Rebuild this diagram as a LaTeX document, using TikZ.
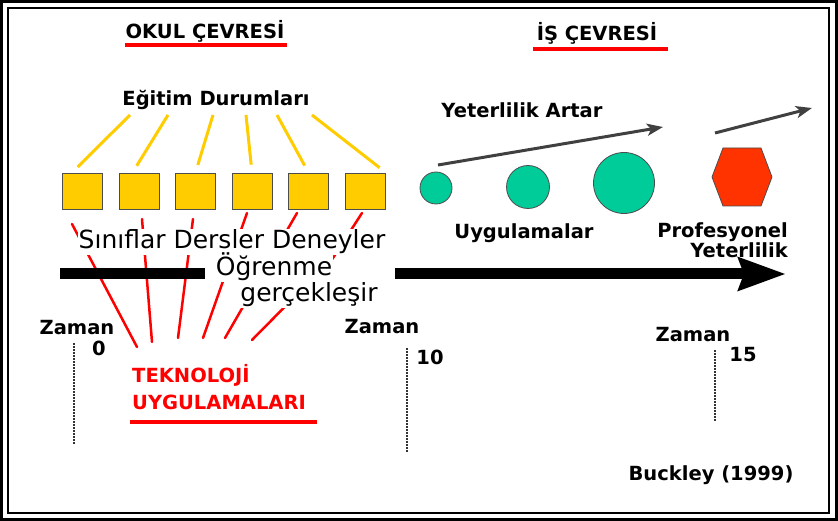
\documentclass[tikz,border=0pt]{standalone}
\usepackage{fontspec}
\setmainfont{DejaVu Sans}
\usepackage{tikz}
\usetikzlibrary{positioning, arrows.meta, shapes.geometric}
\definecolor{sqyellow}{RGB}{255, 204, 0}
\definecolor{apgreen}{RGB}{0, 204, 153}
\definecolor{hexred}{RGB}{255, 51, 0}
\definecolor{tekred}{RGB}{255, 0, 0}
\definecolor{arrgray}{RGB}{64, 64, 64}
\newcommand{\lblfont}{\fontsize{19.5}{20}\selectfont\bfseries}
\newcommand{\bigfont}{\fontsize{25}{26}\selectfont}
\tikzset{
    lbl/.style={font=\lblfont, inner sep=1pt},
    redlbl/.style={lbl, text=tekred},
    biglbl/.style={font=\bigfont, fill=white, inner sep=1pt},
    sqbox/.style={rectangle, draw=gray!60!black, line width=0.8pt, fill=sqyellow, minimum width=40pt, minimum height=36pt, inner sep=0pt},
    apcircle/.style={circle, draw=gray!60!black, line width=0.8pt, fill=apgreen, inner sep=0pt},
    yline/.style={draw=sqyellow, line width=3pt, shorten >=8pt},
    rline/.style={draw=tekred, line width=2.5pt, line cap=round, line join=round},
    uline/.style={draw=tekred, line width=4.5pt},
    garrow/.style={draw=arrgray, line width=3pt, -{Stealth[length=16pt, width=12pt, inset=4pt]}},
    dotline/.style={draw=gray!40!black, line width=1.5pt, dash pattern=on 1.5pt off 1.5pt}
}

\begin{document}
\begin{tikzpicture}[x=1pt, y=-1pt]
                    \useasboundingbox (0,0) rectangle (838,521);
                    % frame
                    \draw[line width=3pt] (1.5,1.5) rectangle (836.5,519.5);
                    \draw[line width=2.5pt] (8,8) rectangle (829,513);

                    % headings
                    \node[lbl] (okul) at (205,31) {OKUL ÇEVRESİ};
                    \draw[uline] (125,45) -- (287,45);
                    \node[lbl] (is) at (597,33) {İŞ ÇEVRESİ};
                    \draw[uline] (533,49) -- (668,49);

                    % egitim durumlari
                    \node[lbl] (egitim) at (216,100) {Eğitim Durumları};
                    \node[sqbox] (s1) at (82,191) {};
                    \node[sqbox] (s2) at (139.5,191) {};
                    \node[sqbox] (s3) at (195.5,191) {};
                    \node[sqbox] (s4) at (252,191) {};
                    \node[sqbox] (s5) at (308.5,191) {};
                    \node[sqbox] (s6) at (365.5,191) {};

                    \coordinate (e1) at (130,115);
                    \coordinate (e2) at (168,115);
                    \coordinate (e3) at (213,115);
                    \coordinate (e4) at (246,115);
                    \coordinate (e5) at (277,115);
                    \coordinate (e6) at (312,115);
                    \draw[yline] (e1) -- ([xshift=-10pt]s1.north);
                    \draw[yline] (e2) -- ([xshift=-7pt]s2.north);
                    \draw[yline] (e3) -- (s3.north);
                    \draw[yline] (e4) -- (s4.north);
                    \draw[yline] (e5) -- (s5.north);
                    \draw[yline] (e6) -- (s6.north east);

                    % red lines to teknoloji
                    \coordinate (a1) at (72,224);
                    \coordinate (a2) at (142,219);
                    \coordinate (a3) at (193,219);
                    \coordinate (a4) at (247,213);
                    \coordinate (a5) at (297,213);
                    \coordinate (a6) at (362,213);
                    \coordinate (k6) at (333,258);
                    \coordinate (b1) at (137,347);
                    \coordinate (b2) at (152,342);
                    \coordinate (b3) at (178,338);
                    \coordinate (b4) at (203,338);
                    \coordinate (b5) at (225,338);
                    \coordinate (b6) at (252,340);
                    \draw[rline] (a1) -- (b1);
                    \draw[rline] (a2) -- (b2);
                    \draw[rline] (a3) -- (b3);
                    \draw[rline] (a4) -- (b4);
                    \draw[rline] (a5) -- (b5);
                    \draw[rline] (a6) -- (k6) -- (b6);

                    % time axis
                    \coordinate (t0) at (60,274);
                    \coordinate (t1) at (205,274);
                    \coordinate (t2) at (395,274);
                    \coordinate (t3) at (786,274);
                    \draw[line width=11pt] (t0) -- (t1);
                    \draw[line width=11pt, -{Stealth[length=47pt, width=32pt, inset=5pt]}] (t2) -- (t3);

                    \node[biglbl] (ders) at (232,242) {Sınıflar Dersler Deneyler};
                    \node[biglbl] (gercek) at (309,295) {gerçekleşir};
                    \node[biglbl] (ogrenme) at (274,267) {Öğrenme};

                    % is cevresi
                    \node[lbl] (yeter) at (522,110) {Yeterlilik Artar};
                    \coordinate (g1) at (438,165);
                    \coordinate (g2) at (663,127);
                    \coordinate (g3) at (715,133);
                    \coordinate (g4) at (812,108);
                    \draw[garrow] (g1) -- (g2);
                    \draw[garrow] (g3) -- (g4);

                    \node[apcircle, minimum size=32pt] (c1) at (436,188) {};
                    \node[apcircle, minimum size=43pt] (c2) at (528,187) {};
                    \node[apcircle, minimum size=61pt] (c3) at (624,183) {};
                    \draw[draw=gray!60!black, line width=0.8pt, fill=hexred]
                        (712,177) -- (723,148) -- (761,148) -- (772,177) -- (761,206) -- (723,206) -- cycle;

                    \node[lbl] (uygu) at (524,233) {Uygulamalar};
                    \node[lbl, align=right, anchor=east] (prof) at (789,240) {Profesyonel\\Yeterlilik};

                    % zaman
                    \node[lbl] (zaman0) at (77,328) {Zaman};
                    \node[lbl] (n0) at (99,348) {0};
                    \draw[dotline] (74,343) -- (74,445);
                    \node[lbl] (zaman10) at (382,327) {Zaman};
                    \node[lbl] (n10) at (430,357) {10};
                    \draw[dotline] (407,348) -- (407,452);
                    \node[lbl] (zaman15) at (693,335) {Zaman};
                    \node[lbl] (n15) at (743,355) {15};
                    \draw[dotline] (715,350) -- (715,422);

                    % teknoloji
                    \node[redlbl, anchor=west] (tek) at (131,375) {TEKNOLOJİ};
                    \node[redlbl, anchor=west] (uyg) at (131,402) {UYGULAMALARI};
                    \draw[uline] (130,422) -- (317,422);

                    \node[lbl] (buck) at (711,475) {Buckley (1999)};
                \end{tikzpicture}
\end{document}
